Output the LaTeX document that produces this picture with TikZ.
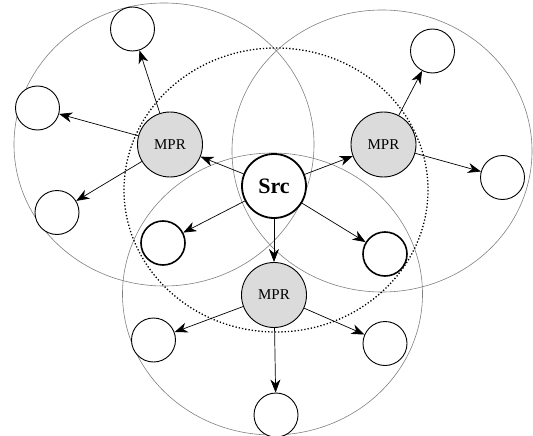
\documentclass[tikz,border=0pt]{standalone}
\usepackage{fontspec}
\setmainfont{Liberation Serif}
\usetikzlibrary{arrows.meta}
\tikzset{
    leaf/.style={circle, draw, fill=white, minimum size=44pt, inner sep=0pt, line width=0.9pt},
    inleaf/.style={leaf, line width=1.6pt},
    mpr/.style={circle, draw, fill=black!14, minimum size=65pt, inner sep=0pt, line width=0.9pt,
        font=\fontsize{15}{15}\selectfont},
    srcnode/.style={circle, draw, fill=white, minimum size=64pt, inner sep=0pt, line width=1.8pt,
        font=\fontsize{22}{22}\selectfont\bfseries},
    reach/.style={draw=black!50, line width=0.6pt},
    link/.style={-{Stealth[length=13pt,width=10pt,inset=4pt]}, line width=0.7pt},
}

\begin{document}
\begin{tikzpicture}[x=1pt,y=-1pt]
      \useasboundingbox (0,0) rectangle (533,436);
      % radio ranges
      \draw[reach] (164,144.5) ellipse [x radius=150, y radius=141.5];
      \draw[reach] (382,151) ellipse [x radius=150, y radius=141];
      \draw[reach] (272.5,294) ellipse [x radius=150, y radius=141];
      \draw[line width=1.3pt, dash pattern=on 1.3pt off 2pt] (276,190) ellipse [x radius=152, y radius=142];
      % nodes
      \node[srcnode] (src) at (274,186) {Src};
      \node[mpr] (mprL) at (170,144.5) {MPR};
      \node[mpr] (mprR) at (383.5,144.5) {MPR};
      \node[mpr] (mprB) at (274,295) {MPR};
      \node[leaf] (nTL) at (132.5,29) {};
      \node[leaf] (nL) at (37.5,108) {};
      \node[leaf] (nLL) at (57,212.5) {};
      \node[leaf] (nTR) at (432.5,51) {};
      \node[leaf] (nR) at (502.5,177.5) {};
      \node[inleaf] (nIL) at (163,243) {};
      \node[inleaf] (nIR) at (385,254) {};
      \node[leaf] (nBL) at (153.5,340) {};
      \node[leaf] (nBR) at (385,343.5) {};
      \node[leaf] (nB) at (276,415) {};
      % forwarding
      \draw[link] (src) -- (mprL);
      \draw[link] (src) -- (mprR);
      \draw[link] (src) -- (mprB);
      \draw[link] (src) -- (nIL);
      \draw[link] (src) -- (nIR);
      \draw[link] (mprL) -- (nTL);
      \draw[link] (mprL) -- (nL);
      \draw[link] (mprL) -- (nLL);
      \draw[link] (mprR) -- (nTR);
      \draw[link] (mprR) -- (nR);
      \draw[link] (mprB) -- (nBL);
      \draw[link] (mprB) -- (nBR);
      \draw[link] (mprB) -- (nB);
\end{tikzpicture}
\end{document}
